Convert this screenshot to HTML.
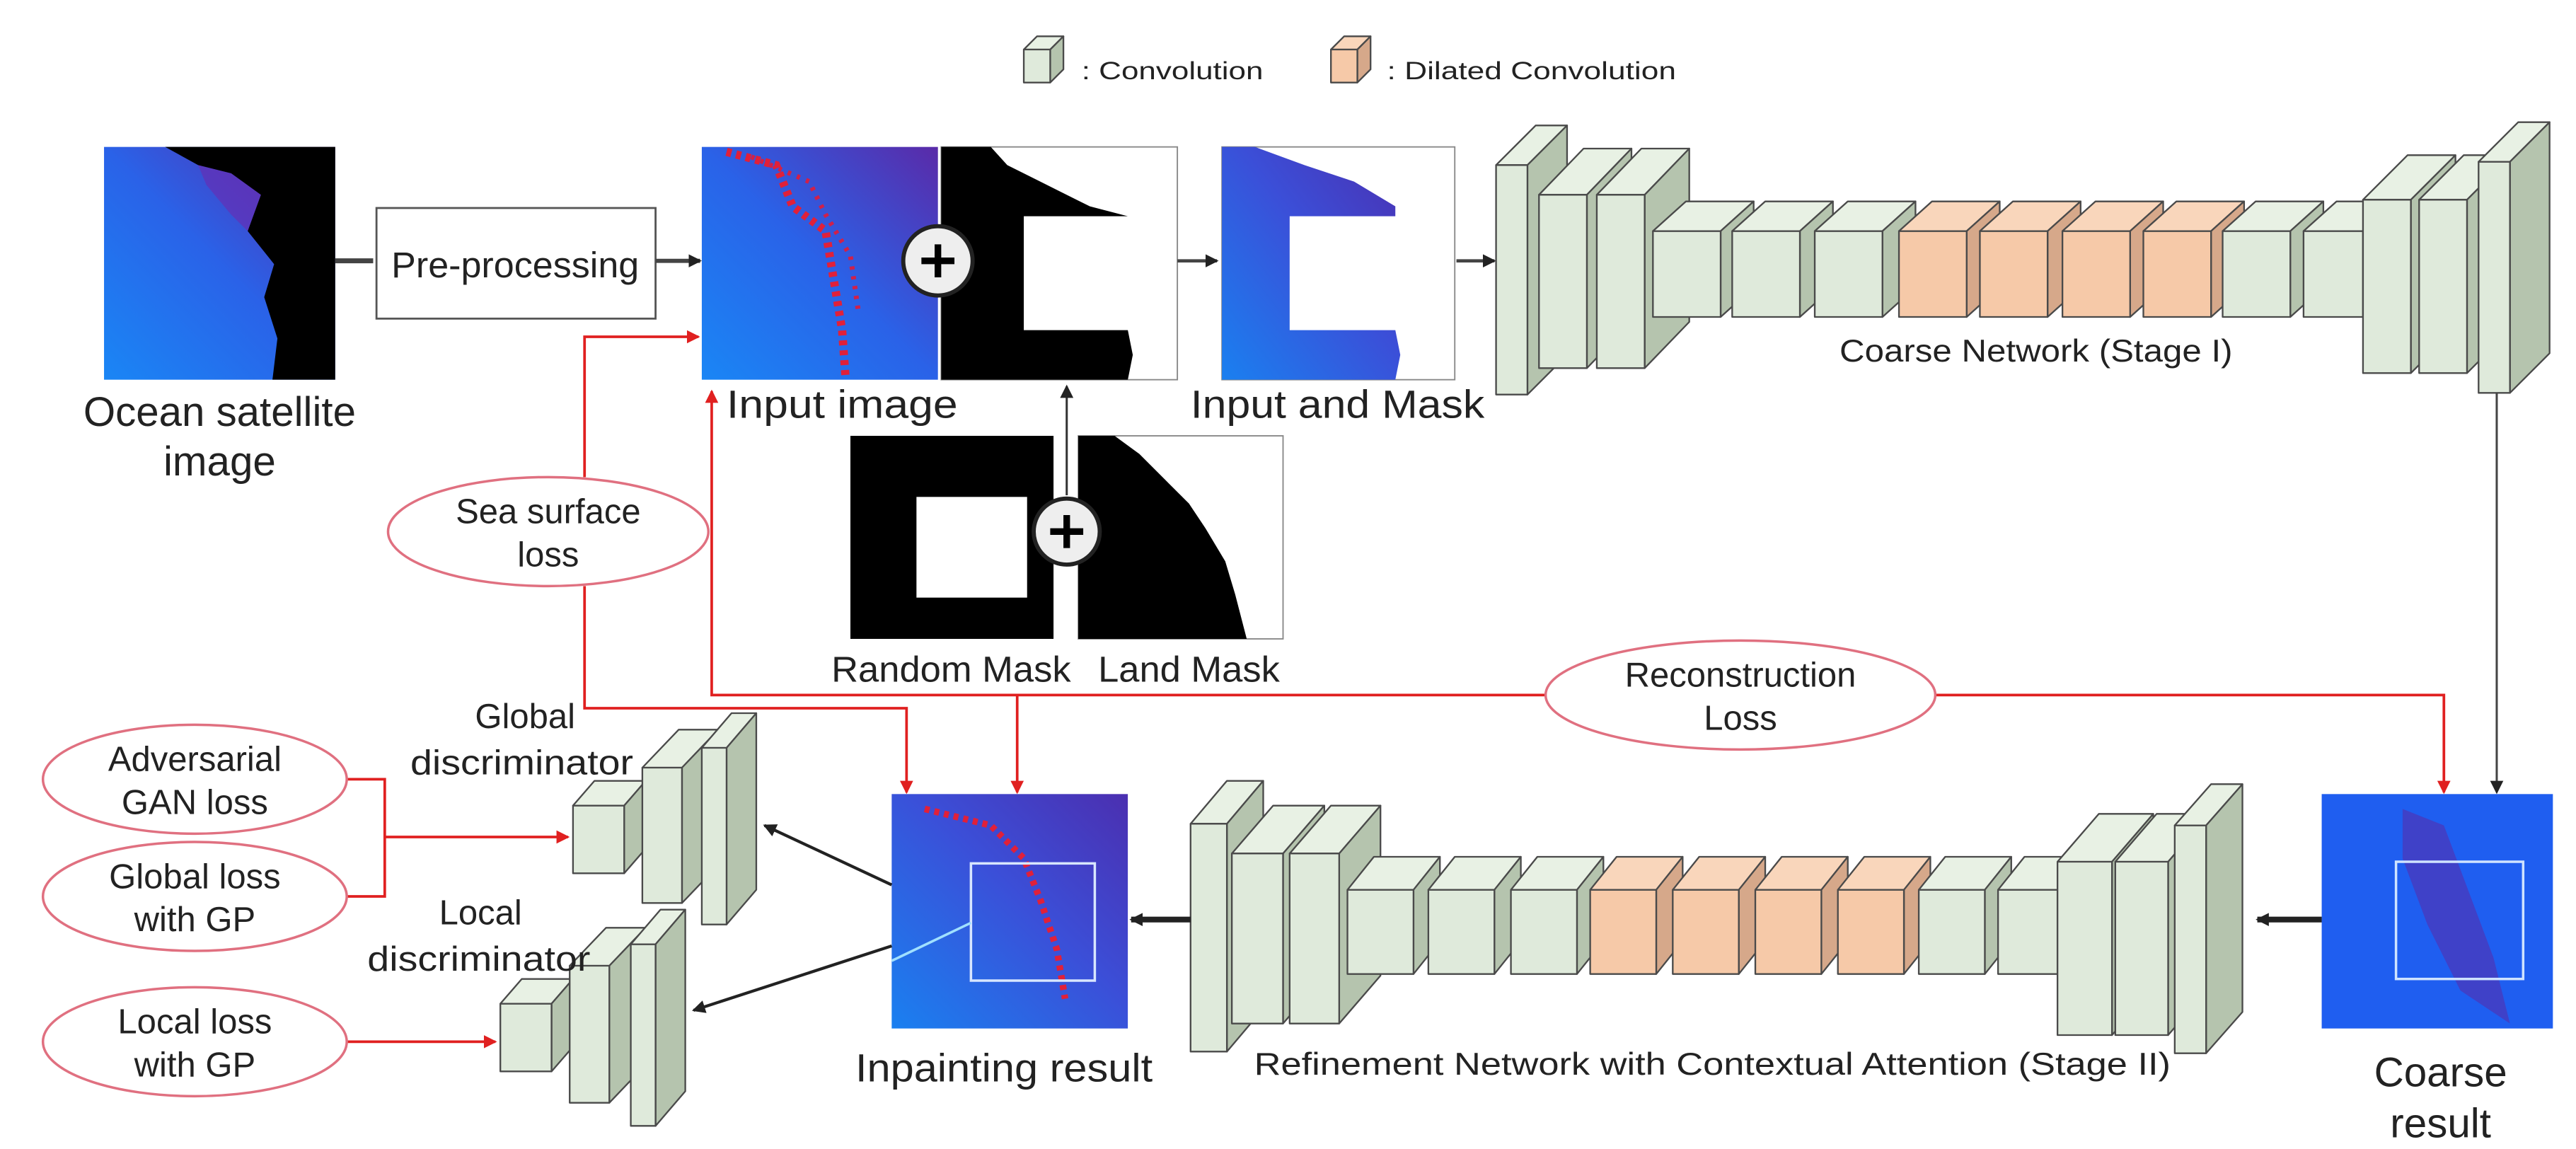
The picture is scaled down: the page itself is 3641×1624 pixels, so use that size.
<!DOCTYPE html>
<html><head><meta charset="utf-8">
<style>
html,body{margin:0;padding:0;background:#fff;}
svg{display:block;}
text{font-family:"Liberation Sans","DejaVu Sans",sans-serif;fill:#222;}
</style></head>
<body>
<svg id="s" width="3641" height="1624" viewBox="0 0 1560 696" preserveAspectRatio="none" xmlns="http://www.w3.org/2000/svg">
<defs>
<linearGradient id="oc" x1="0" y1="1" x2="1" y2="0">
<stop offset="0" stop-color="#1a86f5"/><stop offset="0.5" stop-color="#2a62e8"/><stop offset="1" stop-color="#5a2aa8"/>
</linearGradient>
<linearGradient id="oc2" x1="0" y1="1" x2="1" y2="0">
<stop offset="0" stop-color="#1a80f0"/><stop offset="0.55" stop-color="#3b4fd8"/><stop offset="1" stop-color="#4b2fb0"/>
</linearGradient>
<marker id="ab" markerWidth="8" markerHeight="8" refX="7" refY="4" orient="auto" markerUnits="userSpaceOnUse"><path d="M0,0 L8,4 L0,8 z" fill="#222"/></marker>
<marker id="ar" markerWidth="8" markerHeight="8" refX="7" refY="4" orient="auto" markerUnits="userSpaceOnUse"><path d="M0,0 L8,4 L0,8 z" fill="#e02020"/></marker>
</defs>

<!-- legend -->
<g id="legend"></g>
<text x="655" y="48" font-size="15" textLength="110" lengthAdjust="spacingAndGlyphs">: Convolution</text>
<text x="840" y="48" font-size="15" textLength="175" lengthAdjust="spacingAndGlyphs">: Dilated Convolution</text>

<!-- Ocean satellite image -->
<rect x="63" y="89" width="140" height="141" fill="url(#oc)"/>
<path d="M100,89 L203,89 L203,230 L165,230 L168,205 L160,180 L166,160 L150,140 L158,118 L140,105 L120,100 Z" fill="#000"/>
<path d="M120,100 L140,105 L158,118 L150,140 L140,130 L125,112 Z" fill="#6a2ab0" opacity="0.6"/>
<text x="133" y="258" font-size="25" text-anchor="middle" textLength="165" lengthAdjust="spacingAndGlyphs">Ocean satellite</text>
<text x="133" y="288" font-size="25" text-anchor="middle">image</text>

<!-- preprocessing -->
<line x1="203" y1="158" x2="226" y2="158" stroke="#444" stroke-width="3"/>
<rect x="228" y="126" width="169" height="67" fill="#fff" stroke="#555" stroke-width="1.2"/>
<text x="312" y="168" font-size="22" text-anchor="middle" textLength="150" lengthAdjust="spacingAndGlyphs">Pre-processing</text>
<line x1="397" y1="158" x2="424" y2="158" stroke="#444" stroke-width="2.5" marker-end="url(#ab)"/>

<!-- input image -->
<rect x="425" y="89" width="143" height="141" fill="url(#oc)"/>
<path d="M440,92 L470,100 L480,125 L500,140 L505,170 L510,200 L512,228" stroke="#e0203a" stroke-width="5" fill="none" stroke-dasharray="3 3"/>
<path d="M455,95 L490,110 L500,130 L515,155 L520,190" stroke="#d0204a" stroke-width="3" fill="none" stroke-dasharray="2 4"/>
<!-- mask -->
<rect x="570" y="89" width="143" height="141" fill="#fff" stroke="#888" stroke-width="0.8"/>
<path d="M570,89 L600,89 L610,100 L640,115 L660,125 L683,131 L620,131 L620,200 L683,200 L686,215 L683,230 L570,230 Z" fill="#000"/>
<circle cx="568" cy="158" r="21" fill="#eee" stroke="#222" stroke-width="2.5"/>
<path d="M558,158 H578 M568,148 V168" stroke="#000" stroke-width="4"/>
<text x="510" y="253" font-size="24" text-anchor="middle" textLength="140" lengthAdjust="spacingAndGlyphs">Input image</text>
<line x1="713" y1="158" x2="737" y2="158" stroke="#444" stroke-width="2" marker-end="url(#ab)"/>

<!-- input and mask -->
<rect x="740" y="89" width="141" height="141" fill="#fff" stroke="#888" stroke-width="0.8"/>
<path d="M740,89 L760,89 L790,100 L820,110 L845,125 L845,131 L781,131 L781,200 L845,200 L848,215 L845,230 L740,230 Z" fill="url(#oc2)"/>
<text x="810" y="253" font-size="24" text-anchor="middle" textLength="178" lengthAdjust="spacingAndGlyphs">Input and Mask</text>
<line x1="882" y1="158" x2="905" y2="158" stroke="#444" stroke-width="2" marker-end="url(#ab)"/>

<!-- random & land mask -->
<rect x="515" y="264" width="123" height="123" fill="#000"/>
<rect x="555" y="301" width="67" height="61" fill="#fff"/>
<rect x="653" y="264" width="124" height="123" fill="#fff" stroke="#888" stroke-width="0.8"/>
<path d="M653,264 L675,264 L690,275 L705,290 L720,305 L730,320 L742,340 L748,360 L755,387 L653,387 Z" fill="#000"/>
<line x1="646" y1="300" x2="646" y2="234" stroke="#333" stroke-width="1.3" marker-end="url(#ab)"/>
<circle cx="646" cy="322" r="20" fill="#eee" stroke="#222" stroke-width="2.5"/>
<path d="M636,322 H656 M646,312 V332" stroke="#000" stroke-width="4"/>
<text x="576" y="413" font-size="22" text-anchor="middle" textLength="145" lengthAdjust="spacingAndGlyphs">Random Mask</text>
<text x="720" y="413" font-size="22" text-anchor="middle" textLength="110" lengthAdjust="spacingAndGlyphs">Land Mask</text>

<!-- networks -->
<g id="net"></g>
<text x="1233" y="219" font-size="19" text-anchor="middle" textLength="238" lengthAdjust="spacingAndGlyphs">Coarse Network (Stage I)</text>
<text x="1037" y="651" font-size="19" text-anchor="middle" textLength="555" lengthAdjust="spacingAndGlyphs">Refinement Network  with  Contextual Attention (Stage II)</text>

<line x1="1512" y1="238" x2="1512" y2="480" stroke="#444" stroke-width="1.3" marker-end="url(#ab)"/>

<!-- coarse result -->
<rect x="1406" y="481" width="140" height="142" fill="#1f5ef0"/>
<path d="M1455,490 L1480,500 L1495,540 L1510,580 L1520,620 L1490,600 L1470,560 L1455,520 Z" fill="#5a2aa8" opacity="0.55"/>
<rect x="1451" y="522" width="77" height="71" fill="none" stroke="#cfe3ff" stroke-width="1.5"/>
<text x="1478" y="658" font-size="25" text-anchor="middle">Coarse</text>
<text x="1478" y="689" font-size="25" text-anchor="middle">result</text>
<line x1="1406" y1="557" x2="1367" y2="557" stroke="#222" stroke-width="3.5" marker-end="url(#ab)"/>
<line x1="721" y1="557" x2="685" y2="557" stroke="#222" stroke-width="3.5" marker-end="url(#ab)"/>

<!-- inpainting result -->
<rect x="540" y="481" width="143" height="142" fill="url(#oc2)"/>
<path d="M560,490 L600,500 L620,520 L630,545 L640,575 L645,605" stroke="#e0203a" stroke-width="4" fill="none" stroke-dasharray="3 3"/>
<rect x="588" y="523" width="75" height="71" fill="none" stroke="#d8e6ff" stroke-width="1.5"/>
<line x1="540" y1="582" x2="588" y2="559" stroke="#a0e0ff" stroke-width="1.5"/>
<text x="608" y="655" font-size="24" text-anchor="middle" textLength="180" lengthAdjust="spacingAndGlyphs">Inpainting result</text>

<line x1="540" y1="536" x2="463" y2="500" stroke="#222" stroke-width="1.8" marker-end="url(#ab)"/>
<line x1="540" y1="573" x2="420" y2="612" stroke="#222" stroke-width="1.8" marker-end="url(#ab)"/>

<text x="318" y="441" font-size="21" text-anchor="middle">Global</text>
<text x="316" y="469" font-size="21" text-anchor="middle" textLength="135" lengthAdjust="spacingAndGlyphs">discriminator</text>
<text x="291" y="560" font-size="21" text-anchor="middle">Local</text>
<text x="290" y="588" font-size="21" text-anchor="middle" textLength="135" lengthAdjust="spacingAndGlyphs">discriminator</text>

<!-- red lines -->
<g stroke="#e02020" stroke-width="1.6" fill="none">
<polyline points="354,289 354,204 423,204" marker-end="url(#ar)"/>
<polyline points="354,355 354,429 549,429 549,480" marker-end="url(#ar)"/>
<polyline points="936,421 431,421 431,237" marker-end="url(#ar)"/>
<polyline points="1172,421 1480,421 1480,480" marker-end="url(#ar)"/>
<polyline points="616,421 616,480" marker-end="url(#ar)"/>
<polyline points="210,472 233,472 233,543 210,543"/>
<polyline points="233,507 344,507" marker-end="url(#ar)"/>
<polyline points="210,631 300,631" marker-end="url(#ar)"/>
</g>

<!-- ellipses -->
<g fill="#fff" stroke="#e07080" stroke-width="1.5">
<ellipse cx="332" cy="322" rx="97" ry="33"/>
<ellipse cx="1054" cy="421" rx="118" ry="33"/>
<ellipse cx="118" cy="472" rx="92" ry="33"/>
<ellipse cx="118" cy="543" rx="92" ry="33"/>
<ellipse cx="118" cy="631" rx="92" ry="33"/>
</g>
<g font-size="21" text-anchor="middle">
<text x="332" y="317">Sea surface</text><text x="332" y="343">loss</text>
<text x="1054" y="416">Reconstruction</text><text x="1054" y="442">Loss</text>
<text x="118" y="467">Adversarial</text><text x="118" y="493">GAN loss</text>
<text x="118" y="538">Global loss</text><text x="118" y="564">with GP</text>
<text x="118" y="626">Local loss</text><text x="118" y="652">with GP</text>
</g>
</svg>
<script>
(function(){
var NS="http://www.w3.org/2000/svg";
var G={f:"#dfeadb",t:"#e8f1e4",s:"#b5c4ae"},O={f:"#f6c9a8",t:"#f9d6bb",s:"#d6a88a"};
function poly(g,pts,fill){var p=document.createElementNS(NS,"polygon");p.setAttribute("points",pts.map(function(a){return a.join(",")}).join(" "));p.setAttribute("fill",fill);p.setAttribute("stroke","#4a4a4a");p.setAttribute("stroke-width","1");p.setAttribute("stroke-linejoin","round");g.appendChild(p);}
function blk(g,x,y,w,h,dx,dy,c){
poly(g,[[x,y],[x+dx,y-dy],[x+w+dx,y-dy],[x+w,y]],c.t);
poly(g,[[x+w,y],[x+w+dx,y-dy],[x+w+dx,y+h-dy],[x+w,y+h]],c.s);
poly(g,[[x,y],[x+w,y],[x+w,y+h],[x,y+h]],c.f);}
var n=document.getElementById("net");
// coarse
blk(n,906,100,19,139,24,24,G);
blk(n,932,118,29,105,27,28,G);
blk(n,967,118,29,105,27,28,G);
[[1001,G],[1049,G],[1099,G],[1150,O],[1199,O],[1249,O],[1298,O],[1346,G],[1395,G]].forEach(function(a){blk(n,a[0],140,a[0]==1395?36:41,52,20,18,a[1]);});
blk(n,1431,121,29,105,27,27,G);
blk(n,1465,121,29,105,27,27,G);
blk(n,1501,98,19,140,24,24,G);
// refinement
blk(n,721,499,22,138,22,26,G);
blk(n,746,517,31,103,25,29,G);
blk(n,781,517,30,103,25,29,G);
[[816,G],[865,G],[915,G],[963,O],[1013,O],[1063,O],[1113,O],[1162,G],[1210,G]].forEach(function(a){blk(n,a[0],539,a[0]==1210?36:40,51,16,20,a[1]);});
blk(n,1246,522,33,105,25,29,G);
blk(n,1281,522,32,105,25,29,G);
blk(n,1317,500,19,138,22,25,G);
// global disc
blk(n,347,488,31,41,13,15,G);
blk(n,389,465,24,82,22,23,G);
blk(n,425,453,15,107,18,21,G);
// local disc
blk(n,303,608,31,41,13,15,G);
blk(n,345,585,24,83,22,23,G);
blk(n,382,572,15,110,18,21,G);
// legend
var l=document.getElementById("legend");
blk(l,620,30,16,20,8,8,G);
blk(l,806,30,16,20,8,8,O);
})();
</script>
</body></html>
